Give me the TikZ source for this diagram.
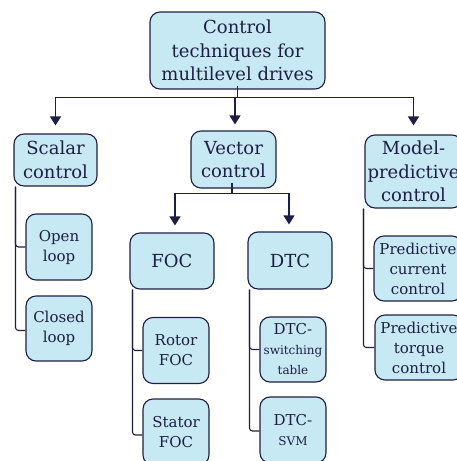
\documentclass[tikz,border=0pt]{standalone}
\usepackage{fontspec}
\setmainfont{DejaVu Serif}
\usetikzlibrary{arrows.meta}
\definecolor{boxfill}{HTML}{C7E9F3}
\definecolor{ink}{HTML}{1E1E44}
\tikzset{
  box/.style={draw=ink, fill=boxfill, line width=1.1pt, rounded corners=10pt,
    align=center, text=ink, inner sep=0pt},
  big/.style={font=\fontsize{18}{23.5}\selectfont},
  mid/.style={font=\fontsize{15}{20}\selectfont},
  link/.style={draw=ink, line width=1.1pt},
  arr/.style={link, -{Triangle[width=11pt,length=9pt]}},
  branch/.style={link, rounded corners=3pt}
}
\newcommand{\smalltxt}[1]{{\fontsize{12}{20}\selectfont #1}}
\begin{document}
\begin{tikzpicture}[x=1pt,y=-1pt]
\useasboundingbox (0,0) rectangle (457,461);

% top level
\node[box,big,minimum width=175pt,minimum height=77pt] (root) at (237.5,50.5)
  {Control\\techniques for\\multilevel drives};
\node[box,big,minimum width=83pt,minimum height=52pt] (scalar) at (55.5,160)
  {Scalar\\control};
\node[box,big,minimum width=85pt,minimum height=57pt] (vector) at (233.5,159.5)
  {Vector\\control};
\node[box,big,minimum width=97pt,minimum height=73pt] (model) at (413.5,171.5)
  {Model-\\predictive\\control};

% scalar control branch
\node[box,mid,minimum width=66pt,minimum height=66pt] (open) at (59,247)
  {Open\\loop};
\node[box,mid,minimum width=66pt,minimum height=65pt] (closed) at (59,328.5)
  {Closed\\loop};

% vector control branch
\node[box,big,minimum width=84pt,minimum height=56pt] (foc) at (172,261) {FOC};
\node[box,big,minimum width=84pt,minimum height=57pt] (dtc) at (290,260.5) {DTC};
\node[box,mid,minimum width=66pt,minimum height=66pt] (rotor) at (176,350.5)
  {Rotor\\FOC};
\node[box,mid,minimum width=66pt,minimum height=66pt] (stator) at (176,432)
  {Stator\\FOC};
\node[box,mid,minimum width=66pt,minimum height=65pt] (dtcsw) at (293,349.5)
  {DTC-\\\smalltxt{switching}\\\smalltxt{table}};
\node[box,mid,minimum width=66pt,minimum height=66pt] (dtcsvm) at (293,430)
  {DTC-\\\smalltxt{SVM}};

% model-predictive branch
\node[box,mid,minimum width=88pt,minimum height=65pt] (pcc) at (418,268.5)
  {Predictive\\current\\control};
\node[box,mid,minimum width=88pt,minimum height=65pt] (ptc) at (419,347.5)
  {Predictive\\torque\\control};

% connectors from the root
\draw[link] ([yshift=4pt]root.south) -- ++(0,12) coordinate (rj);
\draw[arr,shorten >=8pt] (rj) -| (scalar.north);
\draw[arr,shorten >=6pt] (rj) -| ([xshift=1.5pt]vector.north);
\draw[arr,shorten >=9pt] (rj) -| (model.north);

% connectors from vector control
\draw[link] ([xshift=-1.5pt,yshift=6pt]vector.south) -- ++(0,11) coordinate (vj);
\draw[arr,shorten >=7pt] (vj) -| ([xshift=3pt]foc.north);
\draw[arr,shorten >=7pt] (vj) -| ([xshift=-1pt]dtc.north);

% tree lines
\draw[branch] ([xshift=2pt]scalar.south west) |- (open.west);
\draw[branch] ([xshift=2pt]scalar.south west) |- ([yshift=-2pt]closed.west);
\draw[branch] ([xshift=3pt]foc.south west) |- (rotor.west);
\draw[branch] ([xshift=3pt]foc.south west) |- ([yshift=-3pt]stator.west);
\draw[branch] ([xshift=2pt]dtc.south west) |- (dtcsw.west);
\draw[branch] ([xshift=2pt]dtc.south west) |- ([yshift=-1pt]dtcsvm.west);
\draw[branch] ([xshift=-1pt]model.south west) |- (pcc.west);
\draw[branch] ([xshift=-1pt]model.south west) |- (ptc.west);
\end{tikzpicture}
\end{document}
